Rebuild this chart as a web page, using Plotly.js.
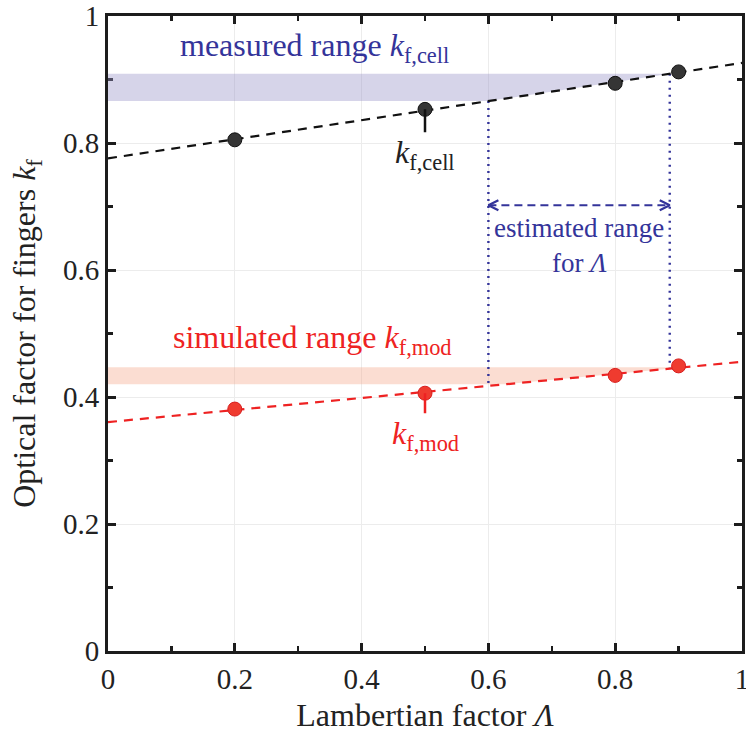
<!DOCTYPE html>
<html>
<head>
<meta charset="utf-8">
<script src="https://cdn.plot.ly/plotly-3.0.1.min.js"></script>
<style>
  html, body { margin: 0; padding: 0; background: #ffffff; }
  #chart { width: 746px; height: 733px; }
</style>
</head>
<body>
<div id="chart"></div>
<script>
// Lambertian factor of the simulated/measured configurations
const lambda = [0.2, 0.5, 0.8, 0.9];
// Optical factor for fingers: measured on the cell and from the model
const kfCell = [0.805, 0.853, 0.894, 0.912];
const kfMod = [0.381, 0.406, 0.434, 0.449];
// Ranges of k_f (min, max)
const measuredRange = [0.866, 0.909];
const simulatedRange = [0.420, 0.447];
// Axis ticks
const tickVals = [0, 0.2, 0.4, 0.6, 0.8, 1];
const tickText = ['0', '0.2', '0.4', '0.6', '0.8', '1'];

const BLUE = '#34349a';
const RED = '#ee2222';
const AXIS = '#1c1c1c';
const FONT = '"Liberation Serif", "Times New Roman", serif';

// least-squares straight line
function linFit(xs, ys) {
  const n = xs.length;
  const mx = xs.reduce((s, v) => s + v, 0) / n;
  const my = ys.reduce((s, v) => s + v, 0) / n;
  let sxy = 0, sxx = 0;
  for (let i = 0; i < n; i++) {
    sxy += (xs[i] - mx) * (ys[i] - my);
    sxx += (xs[i] - mx) * (xs[i] - mx);
  }
  const b = sxy / sxx;
  return { a: my - b * mx, b: b };
}
const fitCell = linFit(lambda, kfCell);
const fitMod = linFit(lambda, kfMod);
const evalFit = (f, x) => f.a + f.b * x;
const invFit = (f, y) => (y - f.a) / f.b;

// Λ range where the cell fit lies inside the measured band
const lamLow = invFit(fitCell, measuredRange[0]);
const lamHigh = invFit(fitCell, measuredRange[1]);

// band polygon: from Λ = 0 up to where the fit leaves the band
function band(range, fit) {
  const xa = invFit(fit, range[0]);
  const xb = invFit(fit, range[1]);
  return { x: [0, 0, xa, xb, 0], y: [range[1], range[0], range[0], range[1], range[1]] };
}
const bandCell = band(measuredRange, fitCell);
const bandMod = band(simulatedRange, fitMod);

const lineX = [0, 1];

// arrow for the estimated Λ range
const arrowY = 0.702;
const pxX = 634, pxY = 635;            // pixels per unit of the plot area
const headL = 10 / pxX, headH = 5 / pxY;
const chevX = [lamLow + headL, lamLow, lamLow + headL, null, lamHigh - headL, lamHigh, lamHigh - headL];
const chevY = [arrowY + headH, arrowY, arrowY - headH, null, arrowY + headH, arrowY, arrowY - headH];

const traces = [
  { x: bandCell.x, y: bandCell.y, mode: 'lines', fill: 'toself', fillcolor: 'rgba(152,147,200,0.4)',
    line: { width: 0 }, hoverinfo: 'skip' },
  { x: bandMod.x, y: bandMod.y, mode: 'lines', fill: 'toself', fillcolor: 'rgba(245,170,142,0.4)',
    line: { width: 0 }, hoverinfo: 'skip' },
  // dotted verticals linking both fits
  { x: [lamLow, lamLow, null, lamHigh, lamHigh],
    y: [evalFit(fitCell, lamLow), evalFit(fitMod, lamLow), null, evalFit(fitCell, lamHigh), evalFit(fitMod, lamHigh)],
    mode: 'lines', line: { color: BLUE, width: 2.4, dash: '2px,5px' }, hoverinfo: 'skip' },
  // estimated range arrow
  { x: [lamLow, lamHigh], y: [arrowY, arrowY], mode: 'lines',
    line: { color: BLUE, width: 2.2, dash: '8px,5px' }, hoverinfo: 'skip' },
  { x: chevX, y: chevY, mode: 'lines', line: { color: BLUE, width: 2.2 }, hoverinfo: 'skip' },
  // fits
  { x: lineX, y: lineX.map(v => evalFit(fitCell, v)), mode: 'lines',
    line: { color: '#111111', width: 2.2, dash: '9px,7px' } },
  { x: lineX, y: lineX.map(v => evalFit(fitMod, v)), mode: 'lines',
    line: { color: RED, width: 2.2, dash: '9px,7px' } },
  // data points
  { x: lambda, y: kfCell, mode: 'markers',
    marker: { size: 14, color: '#353535', line: { color: '#111111', width: 1 } } },
  { x: lambda, y: kfMod, mode: 'markers',
    marker: { size: 14, color: '#ef3b2f', line: { color: '#d81e1e', width: 1 } } }
];

const axisCommon = {
  range: [0, 1],
  tickvals: tickVals,
  ticktext: tickText,
  ticks: 'inside',
  ticklen: 8,
  tickwidth: 3,
  tickcolor: AXIS,
  showline: true,
  linewidth: 3,
  linecolor: AXIS,
  mirror: 'ticks',
  layer: 'below traces',
  showgrid: true,
  gridcolor: '#ececec',
  gridwidth: 1,
  zeroline: false,
  fixedrange: true,
  automargin: false,
  ticklabeloverflow: 'allow',
  tickfont: { family: FONT, size: 29, color: '#222222' },
  minor: { dtick: 0.1, tick0: 0, ticks: 'inside', ticklen: 5, tickwidth: 2.5, tickcolor: AXIS, showgrid: false }
};

const layout = {
  width: 746,
  height: 733,
  margin: { l: 108, r: 4, t: 16, b: 82 },
  paper_bgcolor: '#ffffff',
  plot_bgcolor: '#ffffff',
  showlegend: false,
  font: { family: FONT, color: '#222222' },
  xaxis: Object.assign({}, axisCommon, {
    ticklabelstandoff: 0,
    title: { text: 'Lambertian factor <i>Λ</i>', font: { family: FONT, size: 32, color: '#222222' }, standoff: 14 }
  }),
  yaxis: Object.assign({}, axisCommon, {
    ticklabelstandoff: 0,
    title: { text: 'Optical factor for fingers <i>k</i><sub>f</sub>', font: { family: FONT, size: 32, color: '#222222' }, standoff: 18 }
  }),
  annotations: [
    { x: 0.326, y: 0.951, xref: 'x', yref: 'y', showarrow: false,
      text: 'measured range <i>k</i><sub>f,cell</sub>', font: { family: FONT, size: 32, color: BLUE } },
    { x: 0.322, y: 0.491, xref: 'x', yref: 'y', showarrow: false,
      text: 'simulated range <i>k</i><sub>f,mod</sub>', font: { family: FONT, size: 32, color: RED } },
    { x: 0.743, y: 0.666, xref: 'x', yref: 'y', showarrow: false,
      text: 'estimated range', font: { family: FONT, size: 27, color: BLUE } },
    { x: 0.743, y: 0.611, xref: 'x', yref: 'y', showarrow: false,
      text: 'for <i>Λ</i>', font: { family: FONT, size: 27, color: BLUE } },
    { x: lambda[1], y: kfCell[1], xref: 'x', yref: 'y', showarrow: true, arrowhead: 0,
      arrowwidth: 2.5, arrowcolor: '#111111', ax: 0, ay: 45, standoff: 0,
      text: '<i>k</i><sub>f,cell</sub>', font: { family: FONT, size: 32, color: '#222222' } },
    { x: lambda[1], y: kfMod[1], xref: 'x', yref: 'y', showarrow: true, arrowhead: 0,
      arrowwidth: 2.5, arrowcolor: RED, ax: 0, ay: 42, standoff: 0,
      text: '<i>k</i><sub>f,mod</sub>', font: { family: FONT, size: 32, color: RED } }
  ]
};

Plotly.newPlot('chart', traces, layout, { displayModeBar: false, staticPlot: true });
</script>
</body>
</html>
